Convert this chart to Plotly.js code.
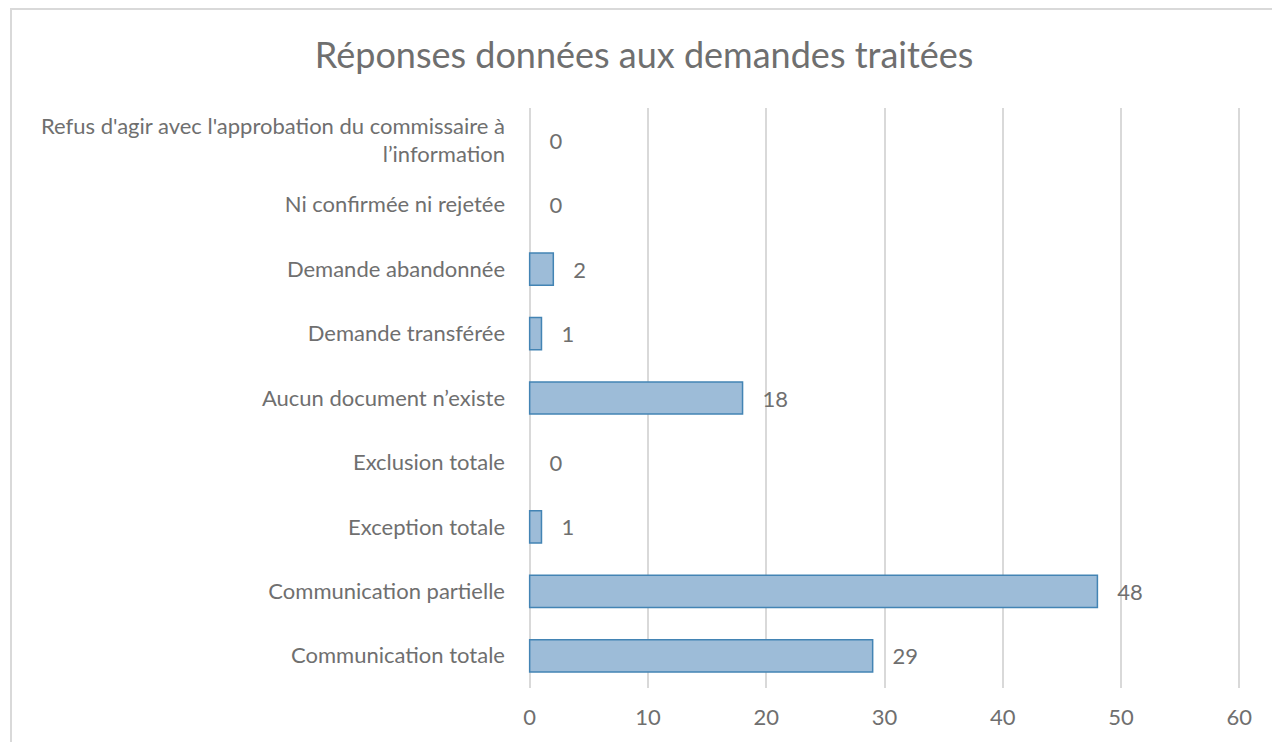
<!DOCTYPE html>
<html>
<head>
<meta charset="utf-8">
<script src="https://cdn.plot.ly/plotly-3.0.1.min.js"></script>
<style>
    html, body { margin: 0; padding: 0; overflow: hidden; background: #ffffff; }
    #chart {
        position: absolute;
        left: 10px;
        top: 8px;
        width: 1290px;
        height: 760px;
        border: 2px solid #d9d9d9;
    }
</style>
</head>
<body>
<div id="chart"></div>
<script>
// Categories listed bottom to top, as on the axis
const categories = [
    'Communication totale',
    'Communication partielle',
    'Exception totale',
    'Exclusion totale',
    'Aucun document n’existe',
    'Demande transférée',
    'Demande abandonnée',
    'Ni confirmée ni rejetée',
    "Refus d'agir avec l'approbation du commissaire à<br>l’information"
];
const counts = [29, 48, 1, 0, 18, 1, 2, 0, 0];
const xTicks = [0, 10, 20, 30, 40, 50, 60];

const textGray = '#6f6f6f';
const fontFamily = 'Lato, "Noto Sans", sans-serif';

const trace = {
    type: 'bar',
    orientation: 'h',
    y: categories,
    x: counts,
    width: 0.5,
    marker: {
        color: '#9dbcd8',
        // no outline on empty bars, like the original
        line: { color: '#4384b4', width: counts.map(v => v > 0 ? 1.5 : 0) }
    },
    texttemplate: '\u00a0\u00a0\u00a0%{x}',
    textposition: 'outside',
    textfont: { family: fontFamily, size: 22, color: textGray },
    cliponaxis: false,
    hoverinfo: 'x+y'
};

const layout = {
    width: 1290,
    height: 760,
    margin: { t: 98, r: 61, b: 82, l: 516 },
    paper_bgcolor: '#ffffff',
    plot_bgcolor: '#ffffff',
    font: { family: fontFamily, size: 22, color: textGray },
    showlegend: false,
    title: {
        text: 'Réponses données aux demandes traitées',
        font: { family: fontFamily, size: 36, color: textGray },
        x: 0.49,
        xanchor: 'center',
        y: 0.94,
        yanchor: 'middle'
    },
    xaxis: {
        // a little slack so the gridlines at 0 and 60 are kept
        range: [-0.14, 60.14],
        tickvals: xTicks,
        ticks: '',
        ticklabelstandoff: 14,
        showgrid: true,
        gridcolor: '#d9d9d9',
        gridwidth: 2,
        zeroline: false,
        showline: false,
        tickfont: { family: fontFamily, size: 22, color: textGray }
    },
    yaxis: {
        type: 'category',
        ticks: '',
        ticklabelstandoff: 22,
        showgrid: false,
        zeroline: false,
        showline: false,
        tickfont: { family: fontFamily, size: 22, color: textGray }
    }
};

Plotly.newPlot('chart', [trace], layout, { displayModeBar: false, staticPlot: true });
</script>
</body>
</html>
